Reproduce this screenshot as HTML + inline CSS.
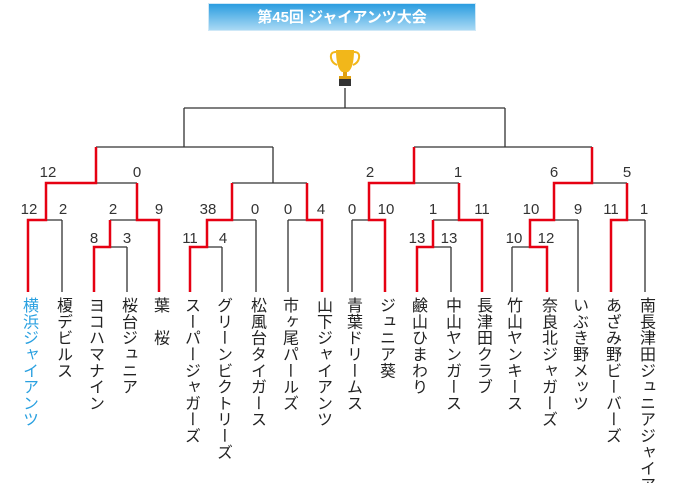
<!DOCTYPE html>
<html><head><meta charset="utf-8"><style>
html,body{margin:0;width:675px;height:483px;overflow:hidden;}
body{background:#fff;position:relative;font-family:"Liberation Sans","Noto Sans CJK JP",sans-serif;}
.title{position:absolute;left:208px;top:3px;width:268px;height:28px;background:linear-gradient(#2a9de0,#a9d9f4);color:#fff;font-weight:bold;font-size:15px;line-height:28px;text-align:center;border:1px solid #cfe8f7;box-sizing:border-box;}
.wrap{position:absolute;left:0;top:0;width:675px;height:483px;overflow:hidden;}
.t{position:absolute;top:297px;width:20px;writing-mode:vertical-rl;font-size:16px;letter-spacing:0.3px;color:#222;line-height:20px;white-space:nowrap;}
svg{position:absolute;left:0;top:0;}
</style></head><body>
<div class="title">第45回 ジャイアンツ大会</div>
<svg width="675" height="483" font-family="Liberation Sans, sans-serif" font-size="15" fill="#333">
<g transform="translate(345,0)">
<path d="M-9,50 h18 q0,18 -6,22 h-6 q-6,-4 -6,-22z" fill="#f2b71a"/>
<path d="M-9,52 q-6,0 -5,6 q1,5 6,7 M9,52 q6,0 5,6 q-1,5 -6,7" stroke="#f2b71a" stroke-width="2" fill="none"/>
<rect x="-2" y="72" width="4" height="5" fill="#e0a010"/>
<rect x="-6" y="76" width="12" height="3" fill="#e0a010"/>
<rect x="-6" y="79" width="12" height="7" fill="#333"/>
</g>
<g stroke="#333" stroke-width="1.3" fill="none">
<path d="M345,88V108 M184,108H505 M184,108V147 M505,108V147
M96,147H273 M96,147V183 M273,147V183
M46,183H137 M46,183V220 M137,183V220
M232,183H307 M232,183V220 M307,183V220
M28,220H62 M110,220H159 M207,220H256 M288,220H322
M28,220V292 M62,220V292 M110,220V247 M159,220V292 M207,220V247 M256,220V292 M288,220V292 M322,220V292
M94,247H127 M190,247H222 M94,247V292 M127,247V292 M190,247V292 M222,247V292
M414,147H592 M414,147V183 M592,147V183
M369,183H459 M554,183H627 M369,183V220 M459,183V220 M554,183V220 M627,183V220
M352,220H385 M433,220H482 M530,220H578 M611,220H645
M352,220V292 M385,220V292 M433,220V247 M482,220V292 M530,220V247 M578,220V292 M611,220V292 M645,220V292
M417,247H451 M512,247H547 M417,247V292 M451,247V292 M512,247V292 M547,247V292"/>
</g>
<g stroke="#e60012" stroke-width="2.5" fill="none" stroke-linejoin="miter">
<polyline points="28,292 28,220 46,220 46,183 96,183 96,147"/>
<polyline points="159,292 159,220 137,220 137,183"/>
<polyline points="94,292 94,247 110,247 110,220"/>
<polyline points="190,292 190,247 207,247 207,220 232,220 232,183"/>
<polyline points="322,292 322,220 307,220 307,183"/>
<polyline points="385,292 385,220 369,220 369,183 414,183 414,147"/>
<polyline points="417,292 417,247 433,247 433,220"/>
<polyline points="482,292 482,220 459,220 459,183"/>
<polyline points="547,292 547,247 530,247 530,220 554,220 554,183 592,183 592,147"/>
<polyline points="611,292 611,220 627,220 627,183"/>
</g>
<g text-anchor="middle">
<text x="48" y="177">12</text><text x="137" y="177">0</text>
<text x="370" y="177">2</text><text x="458" y="177">1</text><text x="554" y="177">6</text><text x="627" y="177">5</text>
<text x="29" y="214">12</text><text x="63" y="214">2</text><text x="113" y="214">2</text><text x="159" y="214">9</text>
<text x="208" y="214">38</text><text x="255" y="214">0</text><text x="288" y="214">0</text><text x="321" y="214">4</text>
<text x="352" y="214">0</text><text x="386" y="214">10</text><text x="433" y="214">1</text><text x="482" y="214">11</text>
<text x="531" y="214">10</text><text x="578" y="214">9</text><text x="611" y="214">11</text><text x="644" y="214">1</text>
<text x="94" y="243">8</text><text x="127" y="243">3</text><text x="190" y="243">11</text><text x="223" y="243">4</text>
<text x="417" y="243">13</text><text x="449" y="243">13</text><text x="514" y="243">10</text><text x="546" y="243">12</text>
</g>
</svg>
<div class="wrap">
<div class="t" style="left:18px;color:#29a0e0">横浜ジャイアンツ</div>
<div class="t" style="left:52px">榎デビルス</div>
<div class="t" style="left:84px">ヨコハマナイン</div>
<div class="t" style="left:117px">桜台ジュニア</div>
<div class="t" style="left:149px">葉　桜</div>
<div class="t" style="left:180px">スーパージャガーズ</div>
<div class="t" style="left:212px">グリーンビクトリーズ</div>
<div class="t" style="left:246px">松風台タイガース</div>
<div class="t" style="left:278px">市ヶ尾パールズ</div>
<div class="t" style="left:312px">山下ジャイアンツ</div>
<div class="t" style="left:342px">青葉ドリームス</div>
<div class="t" style="left:375px">ジュニア葵</div>
<div class="t" style="left:407px">鹸山ひまわり</div>
<div class="t" style="left:441px">中山ヤンガース</div>
<div class="t" style="left:472px">長津田クラブ</div>
<div class="t" style="left:502px">竹山ヤンキース</div>
<div class="t" style="left:537px">奈良北ジャガーズ</div>
<div class="t" style="left:568px">いぶき野メッツ</div>
<div class="t" style="left:601px">あざみ野ビーバーズ</div>
<div class="t" style="left:635px">南長津田ジュニアジャイアンツ</div>
</div>
</body></html>
